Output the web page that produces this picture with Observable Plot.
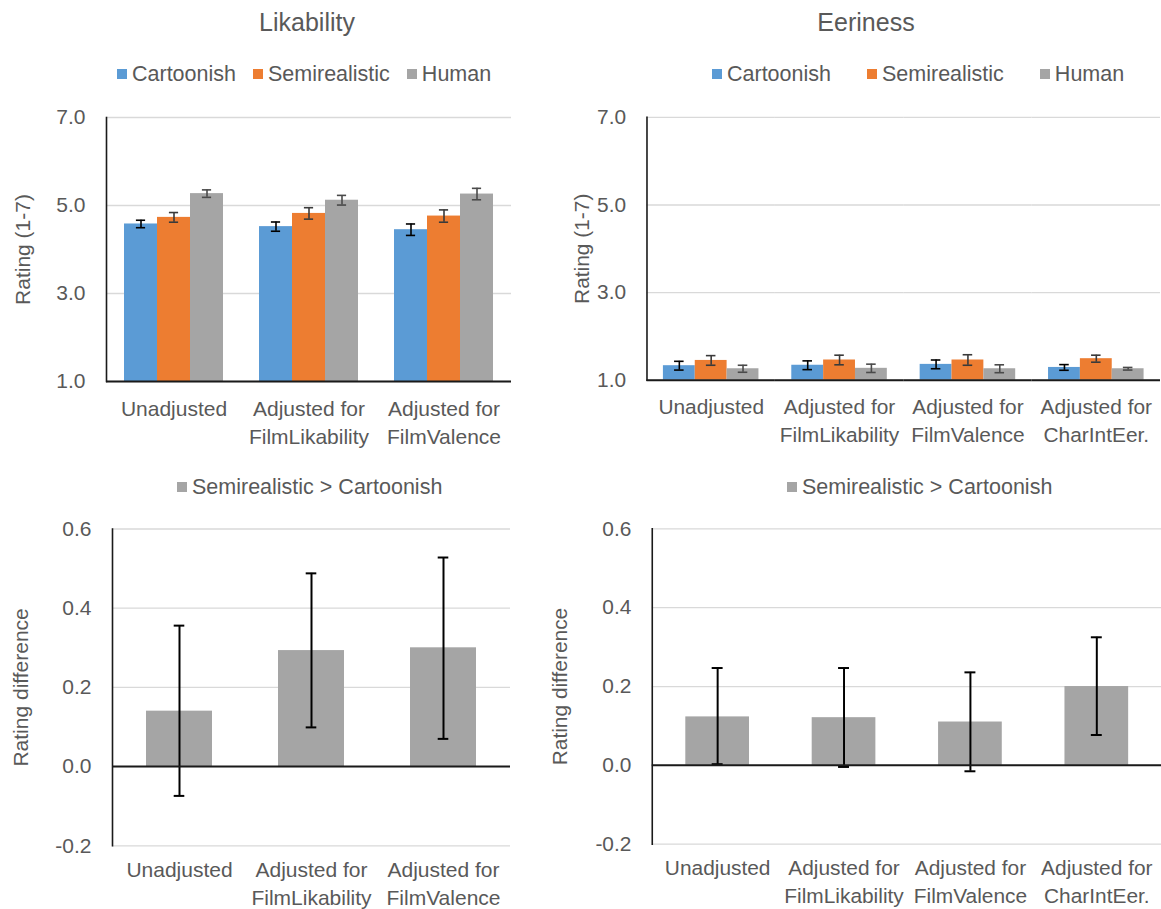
<!DOCTYPE html>
<html>
<head>
<meta charset="utf-8">
<script src="https://cdn.jsdelivr.net/npm/d3@7"></script>
<script src="https://cdn.jsdelivr.net/npm/@observablehq/plot@0.6"></script>
<style>
html, body { margin: 0; padding: 0; background: #fff; overflow: hidden; }
#page { position: relative; width: 1161px; height: 909px; font-family: "Liberation Sans", Arial, sans-serif; color: #595959; overflow: hidden; }
.panel { position: absolute; }
.title { position: absolute; font-size: 25px; line-height: 25px; text-align: center; white-space: nowrap; }
.legend { position: absolute; display: flex; align-items: center; font-size: 21.5px; line-height: 22px; white-space: nowrap; }
.legend .item { display: flex; align-items: center; }
.legend .sw { width: 10px; height: 10px; margin-right: 5px; display: inline-block; }
</style>
</head>
<body>
<div id="page"></div>
<script>
// ---------- data ----------
const seriesNames = ["Cartoonish", "Semirealistic", "Human"];
const seriesColors = ["#5B9BD5", "#ED7D31", "#A5A5A5"];
const errColors = ["#000000", "#3a3a3a", "#4a4a4a"];

const likeTitle = "Likability";
const eerieTitle = "Eeriness";
const likeGroups = ["Unadjusted", "Adjusted for\nFilmLikability", "Adjusted for\nFilmValence"];
const eerieGroups = ["Unadjusted", "Adjusted for\nFilmLikability", "Adjusted for\nFilmValence", "Adjusted for\nCharIntEer."];

const likeCartoonish = [4.58, 4.52, 4.45];
const likeCartoonishErr = [0.085, 0.105, 0.13];
const likeSemirealistic = [4.73, 4.82, 4.76];
const likeSemirealisticErr = [0.11, 0.13, 0.14];
const likeHuman = [5.27, 5.12, 5.26];
const likeHumanErr = [0.085, 0.11, 0.13];

const eerieCartoonish = [1.33, 1.34, 1.36, 1.29];
const eerieCartoonishErr = [0.10, 0.10, 0.10, 0.065];
const eerieSemirealistic = [1.45, 1.46, 1.46, 1.49];
const eerieSemirealisticErr = [0.11, 0.11, 0.12, 0.08];
const eerieHuman = [1.26, 1.27, 1.26, 1.26];
const eerieHumanErr = [0.08, 0.095, 0.09, 0.03];

const diffName = "Semirealistic > Cartoonish";
const diffColor = "#A5A5A5";
const likeDiff = [0.14, 0.293, 0.30];
const likeDiffLow = [-0.074, 0.099, 0.07];
const likeDiffHigh = [0.356, 0.488, 0.528];
const eerieDiff = [0.123, 0.121, 0.110, 0.20];
const eerieDiffLow = [0.003, -0.004, -0.015, 0.077];
const eerieDiffHigh = [0.247, 0.247, 0.236, 0.325];

const ratingLabel = "Rating (1-7)";
const diffAxisLabel = "Rating difference";
const ratingDomain = [1, 7];
const ratingTicks = [1, 3, 5, 7];
const diffDomain = [-0.2, 0.6];
const diffTicks = [-0.2, 0, 0.2, 0.4, 0.6];

// ---------- helpers ----------
const FONT = "'Liberation Sans', Arial, sans-serif";
const AXIS = "#1a1a1a";
const GRID = "#d9d9d9";
const fmt1 = d => d.toFixed(1);

function groupedRows(groups, values, errs) {
  const rows = [];
  groups.forEach((g, i) => {
    seriesNames.forEach((s, j) => rows.push({group: g, series: s, value: values[j][i], err: errs[j][i]}));
  });
  return rows;
}
function diffRows(groups, v, lo, hi) {
  return groups.map((g, i) => ({group: g, value: v[i], low: lo[i], high: hi[i]}));
}

function groupedPanel(o) {
  const errMarks = seriesNames.flatMap((s, j) => {
    const r = o.rows.filter(d => d.series === s);
    const st = {stroke: errColors[j], strokeWidth: 1.6};
    return [
      Plot.ruleX(r, {fx: "group", x: "series", y1: d => d.value - d.err, y2: d => d.value + d.err, ...st}),
      Plot.tickY(r, {fx: "group", x: "series", y: d => d.value - d.err, inset: o.capInset, ...st}),
      Plot.tickY(r, {fx: "group", x: "series", y: d => d.value + d.err, inset: o.capInset, ...st})
    ];
  });
  return Plot.plot({
    width: o.width, height: o.height,
    marginLeft: o.marginLeft, marginRight: o.marginRight, marginTop: o.marginTop, marginBottom: o.marginBottom,
    style: {fontFamily: FONT, fontSize: "21px", color: "#595959", background: "transparent", overflow: "visible"},
    fx: {domain: o.groups, padding: 0},
    x: {domain: seriesNames, paddingInner: 0, paddingOuter: 0.5, axis: null},
    y: {domain: ratingDomain},
    color: {domain: seriesNames, range: seriesColors},
    marks: [
      Plot.gridY({ticks: ratingTicks, stroke: GRID, strokeOpacity: 1, strokeWidth: 1.3}),
      Plot.barY(o.rows, {fx: "group", x: "series", y1: ratingDomain[0], y2: "value", fill: "series"}),
      ...errMarks,
      Plot.ruleY([ratingDomain[0]], {stroke: AXIS, strokeWidth: 2}),
      Plot.frame({anchor: "left", facetAnchor: "left", stroke: AXIS, strokeWidth: 1.6}),
      Plot.axisY({ticks: ratingTicks, tickFormat: fmt1, tickSize: 0, tickPadding: 21,
        label: ratingLabel, labelAnchor: "center", labelOffset: o.labelOffset, labelArrow: "none"}),
      Plot.axisFx({anchor: "bottom", tickSize: 0, tickPadding: o.tickPadX, lineHeight: 1.35, label: null})
    ]
  });
}

function diffPanel(o) {
  const st = {stroke: "#000", strokeWidth: 2};
  return Plot.plot({
    width: o.width, height: o.height,
    marginLeft: o.marginLeft, marginRight: o.marginRight, marginTop: o.marginTop, marginBottom: o.marginBottom,
    style: {fontFamily: FONT, fontSize: "21px", color: "#595959", background: "transparent", overflow: "visible"},
    x: {domain: o.groups, paddingInner: 0.5, paddingOuter: 0.25},
    y: {domain: diffDomain},
    marks: [
      Plot.gridY({ticks: diffTicks, stroke: GRID, strokeOpacity: 1, strokeWidth: 1.3}),
      Plot.barY(o.rows, {x: "group", y: "value", fill: diffColor}),
      Plot.ruleX(o.rows, {x: "group", y1: "low", y2: "high", ...st}),
      Plot.tickY(o.rows, {x: "group", y: "low", inset: o.capInset, ...st}),
      Plot.tickY(o.rows, {x: "group", y: "high", inset: o.capInset, ...st}),
      Plot.ruleY([0], {stroke: AXIS, strokeWidth: 2}),
      Plot.frame({anchor: "left", stroke: AXIS, strokeWidth: 1.6}),
      Plot.axisY({ticks: diffTicks, tickFormat: fmt1, tickSize: 0, tickPadding: 21,
        label: diffAxisLabel, labelAnchor: "center", labelOffset: o.labelOffset, labelArrow: "none"}),
      Plot.axisX({tickSize: 0, tickPadding: o.tickPadX, lineHeight: 1.35, label: null})
    ]
  });
}

// ---------- layout ----------
const page = document.getElementById("page");
function place(node, left, top) {
  const d = document.createElement("div");
  d.className = "panel";
  d.style.left = left + "px";
  d.style.top = top + "px";
  d.appendChild(node);
  page.appendChild(d);
}
function title(text, center, top) {
  const d = document.createElement("div");
  d.className = "title";
  d.textContent = text;
  d.style.left = (center - 200) + "px";
  d.style.width = "400px";
  d.style.top = top + "px";
  page.appendChild(d);
}
function legend(names, colors, left, top, gap) {
  const d = document.createElement("div");
  d.className = "legend";
  d.style.left = left + "px";
  d.style.top = top + "px";
  names.forEach((n, i) => {
    const it = document.createElement("span");
    it.className = "item";
    if (i > 0) it.style.marginLeft = gap + "px";
    const sw = document.createElement("span");
    sw.className = "sw";
    sw.style.background = colors[i];
    it.appendChild(sw);
    it.appendChild(document.createTextNode(n));
    d.appendChild(it);
  });
  page.appendChild(d);
}

title(likeTitle, 307, 10);
title(eerieTitle, 866, 10);
legend(seriesNames, seriesColors, 117, 62.5, 17);
legend(seriesNames, seriesColors, 712, 62.5, 36);
legend([diffName], [diffColor], 177, 475.5, 0);
legend([diffName], [diffColor], 787, 475.5, 0);

place(groupedPanel({
  rows: groupedRows(likeGroups, [likeCartoonish, likeSemirealistic, likeHuman], [likeCartoonishErr, likeSemirealisticErr, likeHumanErr]),
  groups: likeGroups, width: 530, height: 356, marginLeft: 106, marginRight: 19, marginTop: 17, marginBottom: 75,
  labelOffset: 91, tickPadX: 14, capInset: 11.9
}), 0, 100);

place(groupedPanel({
  rows: groupedRows(eerieGroups, [eerieCartoonish, eerieSemirealistic, eerieHuman], [eerieCartoonishErr, eerieSemirealisticErr, eerieHumanErr]),
  groups: eerieGroups, width: 624, height: 356, marginLeft: 105.5, marginRight: 0, marginTop: 17, marginBottom: 75,
  labelOffset: 73, tickPadX: 14, capInset: 11.2
}), 540, 100);

place(diffPanel({
  rows: diffRows(likeGroups, likeDiff, likeDiffLow, likeDiffHigh),
  groups: likeGroups, width: 530, height: 399, marginLeft: 112, marginRight: 20, marginTop: 18.5, marginBottom: 63.7,
  labelOffset: 99, tickPadX: 11, capInset: 27.7
}), 0, 510);

place(diffPanel({
  rows: diffRows(eerieGroups, eerieDiff, eerieDiffLow, eerieDiffHigh),
  groups: eerieGroups, width: 624, height: 399, marginLeft: 112.3, marginRight: 0, marginTop: 18.5, marginBottom: 63.7,
  labelOffset: 101, tickPadX: 11, capInset: 26.5
}), 540, 510);
</script>
</body>
</html>
